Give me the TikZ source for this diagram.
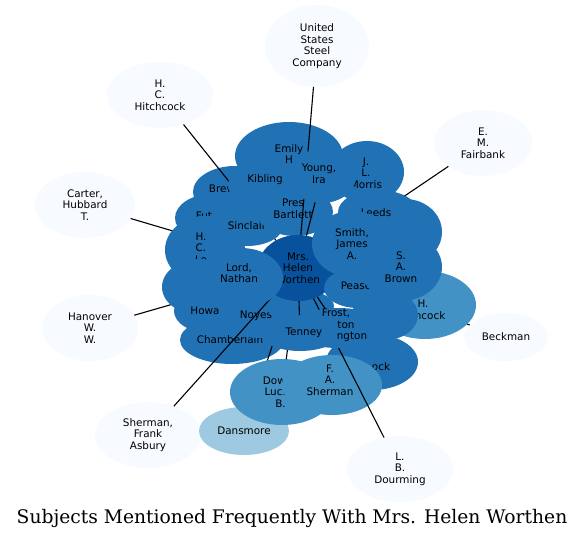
\documentclass[tikz,border=0pt]{standalone}
\usepackage{fontspec}
\usetikzlibrary{shapes.geometric}
\newfontfamily\lblfont{DejaVu Sans}
\newfontfamily\ttlfont{DejaVu Serif}
\definecolor{cOuter}{HTML}{F7FBFF}
\definecolor{cMid}{HTML}{2171B5}
\definecolor{cDark}{HTML}{08519C}
\definecolor{cLight}{HTML}{4292C6}
\definecolor{cPale}{HTML}{9ECAE1}
\tikzset{
  blob/.style={ellipse, inner sep=0pt, outer sep=0pt, draw=none},
  sz/.style 2 args={minimum width={2*#1pt}, minimum height={2*#2pt}},
  lbl/.style={font=\lblfont\fontsize{10.4}{11.7}\selectfont, align=center, inner sep=0pt, text=black},
  edge/.style={draw=black, line width=1.1pt},
}
\begin{document}
\begin{tikzpicture}[x=1pt,y=-1pt]
\useasboundingbox (0,0) rectangle (584,538);
% invisible shape of the centre node, for the connectors
\node[blob, sz={40}{33}] (w) at (298,268) {};
% outer nodes
\node[blob, fill=cOuter, sz={52}{41}] (ussc) at (317,46) {};
\node[lbl] (ussct) at (ussc) {United\\States\\Steel\\Company};
\node[blob, fill=cOuter, sz={53}{33}] (hitch) at (160,95) {};
\node[lbl] (hitcht) at (hitch) {H.\\C.\\Hitchcock};
\node[blob, fill=cOuter, sz={49}{33}] (fair) at (483,143) {};
\node[lbl] (fairt) at (fair) {E.\\M.\\Fairbank};
\node[blob, fill=cOuter, sz={50}{33}] (carter) at (85,205) {};
\node[lbl] (cartert) at (carter) {Carter,\\Hubbard\\T.};
\node[blob, fill=cOuter, sz={48}{33}] (hanover) at (90,328) {};
\node[lbl] (hanovert) at (hanover) {Hanover\\W.\\W.};
\node[blob, fill=cOuter, sz={42}{24}] (beck) at (506,337) {};
\node[lbl] (beckt) at (beck) {Beckman};
\node[blob, fill=cOuter, sz={53}{33}] (sherfa) at (148,435) {};
\node[lbl] (sherfat) at (sherfa) {Sherman,\\Frank\\Asbury};
\node[blob, fill=cOuter, sz={53}{33}] (dourm) at (400,469) {};
\node[lbl] (dourmt) at (dourm) {L.\\B.\\Dourming};
% early connectors
\draw[edge] (fair) -- (w);
\draw[edge] (carter) -- (w);
\draw[edge] (hanover) -- (w);
\draw[edge] (beck) -- (w);
% cluster, back to front
\node[blob, fill=cLight, sz={51}{34}] (hanc) at (425,305) {};
\node[lbl] (hanct) at (423,310) {H.\\Hancock};
\node[blob, fill=cMid, sz={54}{34}] (emily) at (289,156) {};
\node[lbl] (emilyt) at (289,154) {Emily\\H};
\node[blob, fill=cMid, sz={37}{31}] (morris) at (367,172) {};
\node[lbl] (morrist) at (366,173) {J.\\L.\\Morris};
\node[blob, fill=cMid, sz={37}{33}] (dnode) at (405,232) {};
\node[blob, fill=cMid, sz={40}{22}] (leeds) at (378,212) {};
\node[lbl] (leedst) at (376,213) {Leeds};
\node[blob, fill=cMid, sz={42}{26}] (brew) at (235,192) {};
\node[lbl] (brewt) at (222,189) {Brew};
\draw[edge] (hitch) -- (w);
\node[blob, fill=cMid, sz={38}{24}] (kib) at (266,185) {};
\node[lbl] (kibt) at (265,180) {Kibling};
\node[blob, fill=cMid, sz={37}{24}] (fut) at (212,218) {};
\node[lbl] (futt) at (204,216) {Fut};
\node[blob, fill=cMid, sz={40}{34}] (hclo) at (205,250) {};
\node[lbl] (hclot) at (201,248) {H.\\C.\\Lo};
\node[blob, fill=cMid, sz={38}{28}] (nnode) at (200,287) {};
\node[blob, fill=cMid, sz={36}{22}] (howa) at (210,311) {};
\node[lbl] (howat) at (205,311) {Howa};
\node[blob, fill=cMid, sz={36}{20}] (sinc) at (247,226) {};
\node[lbl] (sinct) at (247,226) {Sinclair};
\node[blob, fill=cMid, sz={52}{24}] (chamb) at (232,340) {};
\node[lbl] (chambt) at (230,340) {Chamberlain};
\node[blob, fill=cMid, sz={40}{22}] (noyes) at (258,316) {};
\node[lbl] (noyest) at (256,316) {Noyes};
\node[blob, fill=cPale, sz={45}{24}] (dans) at (244,431) {};
\node[lbl] (danst) at (dans) {Dansmore};
\draw[edge] (dans) -- (w);
\node[blob, fill=cLight, sz={52}{33}] (dow) at (282,392) {};
\node[lbl, align=right, anchor=east] (dowt) at (286,392) {Dow\\Luc.\\B.};
\draw[edge] (dow) -- (w);
\node[blob, fill=cMid, sz={34}{16}] (fillA) at (300,306) {};
\draw[edge] (sherfa) -- (w);
\node[blob, fill=cMid, sz={46}{28}] (ock) at (372,362) {};
\node[lbl] (ockt) at (381,367) {ock};
\node[blob, fill=cLight, sz={50}{30}] (fash) at (332,385) {};
\node[lbl] (fasht) at (330,380) {F.\\A.\\Sherman};
\draw[edge] (dourm) -- (w);
\node[blob, fill=cMid, sz={33}{25}] (vnode) at (385,315) {};
\node[blob, fill=cMid, sz={48}{20}] (frost) at (338,328) {};
\node[blob, fill=cMid, sz={40}{18}] (tenney) at (300,333) {};
\node[lbl] (tenneyt) at (304,333) {Tenney};
\node[lbl] (frostt1) at (336,313) {Frost,};
\node[lbl] (frostt2) at (346,325) {ton};
\node[lbl] (frostt3) at (352,337) {ngton};
\draw[edge] (frost) -- (w);
\draw[edge] (tenney) -- (w);
\node[blob, fill=cMid, sz={38}{24}] (pres) at (295,212) {};
\node[lbl] (prest) at (293,209) {Pres\\Bartlett};
\draw[edge] (ussc) -- (w);
\node[blob, fill=cMid, sz={34}{27}] (young) at (322,176) {};
\draw[edge] (young) -- (w);
\node[lbl] (youngt) at (319,174) {Young,\\Ira};
% centre node
\node[blob, fill=cDark, sz={40}{33}] (worthen) at (298,268) {};
\node[lbl] (worthent) at (298,268) {Mrs.\\Helen\\Worthen};
% front nodes
\node[blob, fill=cMid, sz={42}{30}] (lord) at (241,278) {};
\node[lbl] (lordt) at (239,273) {Lord,\\Nathan};
\node[blob, fill=cMid, sz={40}{33}] (smith) at (352,244) {};
\node[lbl] (smitht) at (352,244) {Smith,\\James\\A.};
\node[blob, fill=cMid, sz={34}{20}] (pease) at (358,288) {};
\node[lbl] (peaset) at (356,286) {Pease};
\node[blob, fill=cMid, sz={41}{34}] (brown) at (401,267) {};
\node[lbl] (brownt) at (401,267) {S.\\A.\\Brown};
% title
\node[font=\ttlfont\fontsize{18.7}{22}\selectfont, anchor=base, inner sep=0pt] (title) at (292,523) {Subjects Mentioned Frequently With Mrs. Helen Worthen};
\end{tikzpicture}
\end{document}
